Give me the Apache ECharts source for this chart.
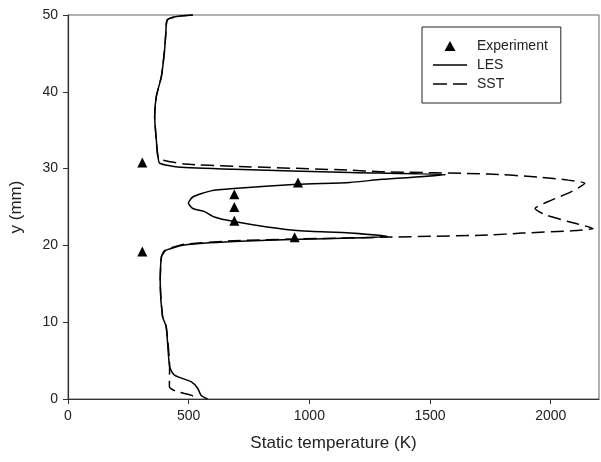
<!DOCTYPE html>
<html>
<head>
<meta charset="utf-8">
<script src="https://cdn.jsdelivr.net/npm/echarts@6/dist/echarts.min.js"></script>
<style>
html, body { margin: 0; padding: 0; background: #fff; }
#main { width: 601px; height: 462px; }
</style>
</head>
<body>
<div id="main"></div>
<script>
// LES profile, read from top (y = 50 mm) to bottom
var lesTemp = [517, 450, 411, 405, 400, 387, 366, 359, 366, 373, 380, 455, 688, 1168, 1565,
    1300, 1168, 950, 688, 592, 517, 499, 517, 565, 606, 688, 825, 962, 1168, 1325,
    1168, 962, 688, 482, 400, 387, 382, 392, 407, 421, 441, 510, 537, 551, 578];
var lesY = [50, 49.8, 49.35, 47.5, 45.4, 42.0, 39.4, 36.8, 33.7, 31.5, 30.7, 30.2, 29.9, 29.5, 29.2,
    28.6, 28.2, 27.95, 27.4, 27.1, 26.3, 25.5, 24.8, 24.4, 23.7, 23.1, 22.4, 21.9, 21.6, 21.15,
    20.95, 20.8, 20.5, 20.05, 19.3, 18.5, 15.1, 10.7, 9.4, 4.2, 3.1, 2.25, 1.4, 0.5, 0];

// SST profile
var sstTemp = [517, 450, 411, 405, 400, 387, 366, 359, 366, 373, 393, 482, 688, 1168, 1291,
    1743, 1949, 2072, 2141, 2086, 2004, 1935, 1976, 2072, 2175, 2086, 1880, 1743, 1291,
    962, 688, 482, 410, 400, 387, 382, 392, 407, 421, 420, 448, 510, 540];
var sstY = [50, 49.8, 49.35, 47.5, 45.4, 42.0, 39.4, 36.8, 33.7, 31.5, 31.1, 30.6, 30.3, 29.8, 29.6,
    29.3, 28.9, 28.5, 28.1, 27.0, 25.9, 24.8, 24.0, 23.1, 22.2, 21.9, 21.6, 21.35, 21.05,
    20.85, 20.6, 20.15, 19.5, 19.2, 18.5, 15.1, 10.7, 9.4, 4.2, 1.6, 1.0, 0.5, 0];

// Experiment points
var expTemp = [308, 953, 689, 689, 689, 939, 308];
var expY = [30.8, 28.2, 26.65, 25.0, 23.2, 21.05, 19.2];

function pairs(xs, ys) {
    return xs.map(function (v, i) { return [v, ys[i]]; });
}

var myChart = echarts.init(document.getElementById('main'));

var font = 'Liberation Sans, Arial, sans-serif';

// legend icons: triangle, solid line, dashed line
var iconTri = 'path://M5,0 L10,9 L0,9 Z';
var iconSolid = 'path://M0,0 L34,0 L34,1.6 L0,1.6 Z';
var iconDash = 'path://M0,0 L14,0 L14,1.6 L0,1.6 Z M20,0 L34,0 L34,1.6 L20,1.6 Z';

var option = {
    animation: false,
    grid: {
        left: 66,
        right: 2,
        top: 15,
        bottom: 63,
        show: true,
        borderColor: '#666',
        borderWidth: 1
    },
    legend: {
        orient: 'vertical',
        left: 422,
        top: 27,
        padding: [12, 13, 12, 11],
        itemGap: 5,
        itemWidth: 34,
        itemHeight: 10,
        symbolKeepAspect: true,
        borderColor: '#222',
        borderWidth: 1,
        textStyle: { fontFamily: font, fontSize: 14, color: '#222', padding: [0, 0, 0, 5] },
        data: [
            { name: 'Experiment', icon: iconTri },
            { name: 'LES', icon: iconSolid },
            { name: 'SST', icon: iconDash }
        ]
    },
    xAxis: {
        type: 'value',
        min: 0,
        max: 2200,
        interval: 500,
        name: 'Static temperature (K)',
        nameLocation: 'middle',
        nameGap: 36,
        nameTextStyle: { fontFamily: font, fontSize: 17, color: '#222' },
        axisLine: { lineStyle: { color: '#333', width: 1.2 } },
        axisTick: { inside: false, length: 5, lineStyle: { color: '#333' } },
        axisLabel: {
            fontFamily: font, fontSize: 14, color: '#222', margin: 10, showMaxLabel: false,
            formatter: function (v) { return String(v); }
        },
        splitLine: { show: false }
    },
    yAxis: {
        type: 'value',
        min: 0,
        max: 50,
        interval: 10,
        name: 'y (mm)',
        nameLocation: 'middle',
        nameGap: 43,
        nameTextStyle: { fontFamily: font, fontSize: 17, color: '#222' },
        axisLine: { lineStyle: { color: '#333', width: 1.2 } },
        axisTick: { inside: false, length: 5, lineStyle: { color: '#333' } },
        axisLabel: { fontFamily: font, fontSize: 14, color: '#222', margin: 10 },
        splitLine: { show: false }
    },
    series: [
        {
            name: 'Experiment',
            type: 'scatter',
            symbol: 'triangle',
            symbolSize: 10,
            itemStyle: { color: '#000', opacity: 1 },
            data: pairs(expTemp, expY),
            z: 5
        },
        {
            name: 'LES',
            type: 'line',
            symbol: 'none',
            smooth: 0.2,
            lineStyle: { color: '#000', width: 1.5 },
            itemStyle: { color: '#000' },
            data: pairs(lesTemp, lesY)
        },
        {
            name: 'SST',
            type: 'line',
            symbol: 'none',
            smooth: 0.2,
            lineStyle: { color: '#000', width: 1.5, type: [13, 6] },
            itemStyle: { color: '#000' },
            data: pairs(sstTemp, sstY)
        }
    ]
};

myChart.setOption(option);
</script>
</body>
</html>
